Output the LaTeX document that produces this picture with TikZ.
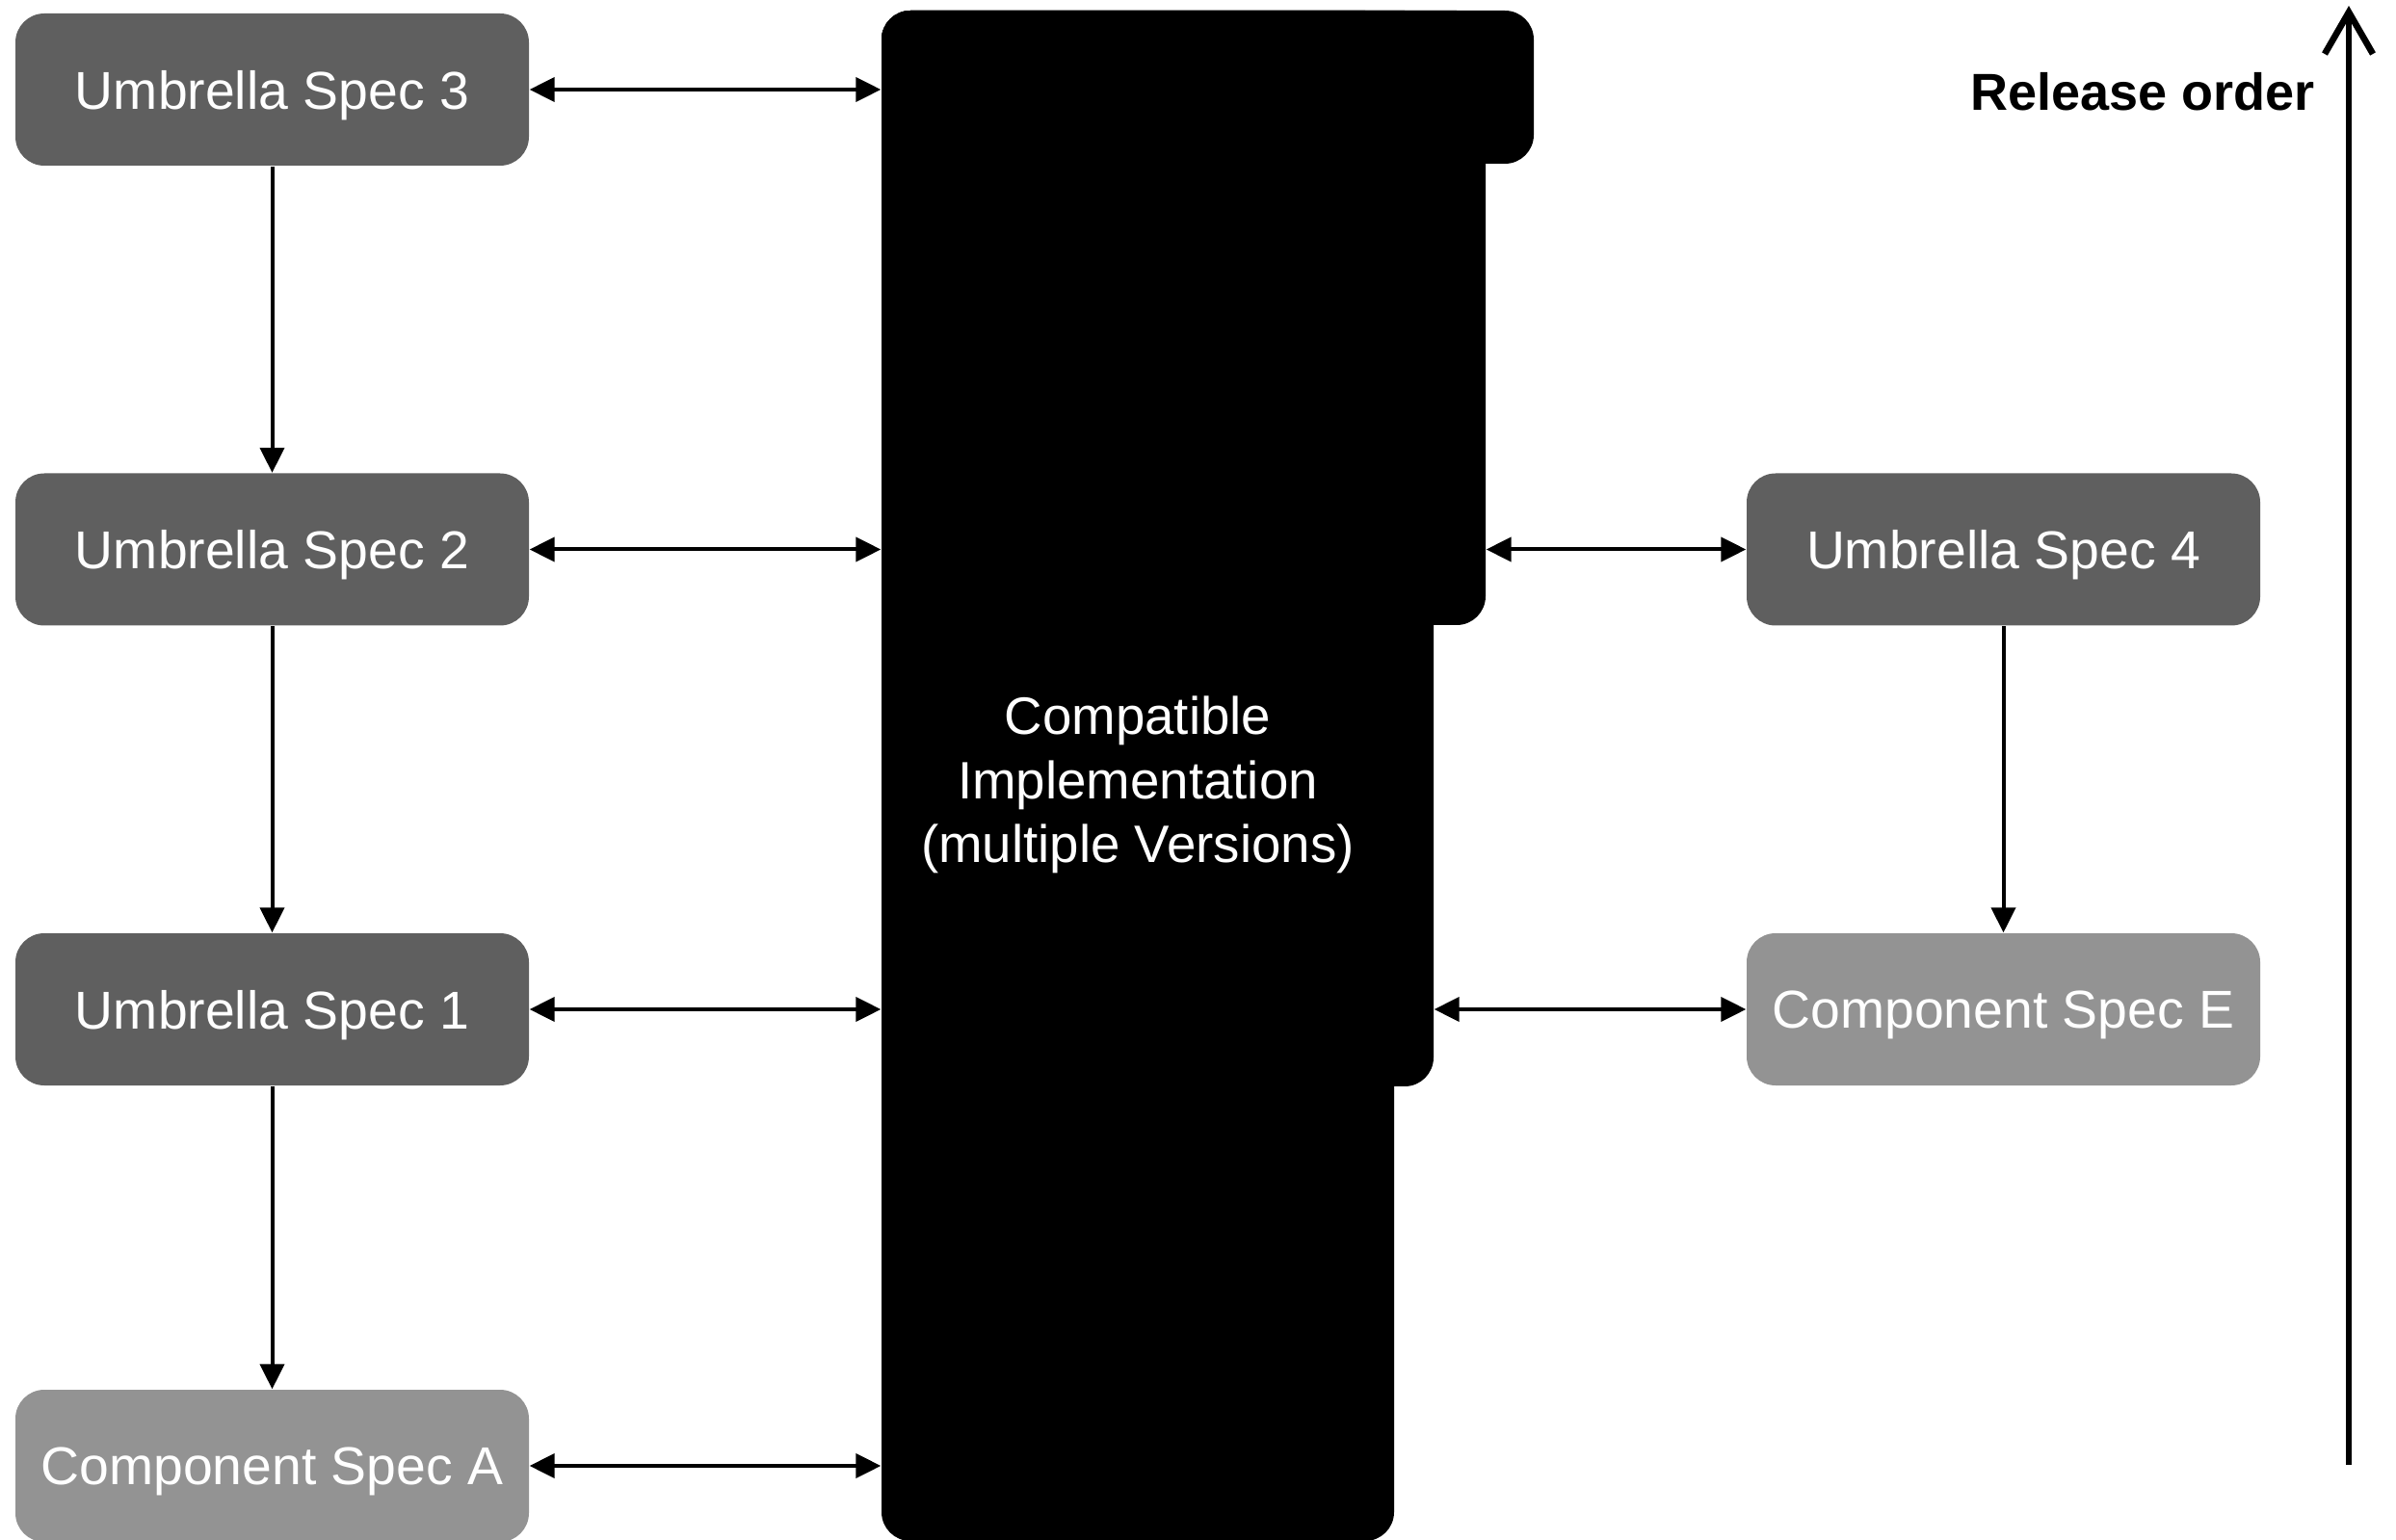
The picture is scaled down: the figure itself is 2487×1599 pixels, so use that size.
\documentclass[tikz,border=0pt]{standalone}
\usepackage{fontspec}
\setmainfont{Liberation Sans}
\usetikzlibrary{arrows.meta}
\definecolor{darkbox}{HTML}{5F5F5F}
\definecolor{lightbox}{HTML}{939393}
\tikzset{
  specbox/.style={rectangle, rounded corners=9pt, minimum width=159.9pt, minimum height=47.4pt,
    inner sep=0pt, text depth=0pt, text=white, font=\fontsize{16.6}{20}\selectfont},
  umbrella/.style={specbox, fill=darkbox},
  component/.style={specbox, fill=lightbox},
  implpart/.style={rectangle, rounded corners=9pt, fill=black, inner sep=0pt},
  conn/.style={line width=1.2pt, -{Triangle[length=7.8pt,width=7.5pt]}},
  biconn/.style={line width=1.2pt, {Triangle[length=7.8pt,width=7.5pt]}-{Triangle[length=7.8pt,width=7.5pt]}},
  orderarrow/.style={line width=2pt, -{Straight Barb[length=13pt,width=15pt,line width=2pt]}}
}
\begin{document}
\begin{tikzpicture}[x=0.3pt,y=-0.3pt]
\useasboundingbox (0,0) rectangle (2487,1599);
% compatible implementation (stepped black shape)
\node[implpart, minimum width=203.1pt, minimum height=47.7pt] (imp3) at (1253.5,90.5) {};
\node[implpart, minimum width=188.1pt, minimum height=191.4pt] (imp2) at (1228.5,330) {};
\node[implpart, minimum width=171.9pt, minimum height=335.1pt] (imp1) at (1201.5,569.5) {};
\node[implpart, minimum width=159.6pt, minimum height=476.7pt, text=white, align=center,
      font=\fontsize{16.4}{20}\selectfont] (impl) at (1181,805.5)
      {\rule{0pt}{17.6pt}Compatible\\Implementation\\(multiple Versions)};
% left column
\node[umbrella] (u3) at (282.5,93) {Umbrella Spec 3};
\node[umbrella] (u2) at (282.5,570.5) {Umbrella Spec 2};
\node[umbrella] (u1) at (282.5,1048) {Umbrella Spec 1};
\node[component] (ca) at (282.5,1522) {Component Spec A};
% right column
\node[umbrella] (u4) at (2079.5,570.5) {Umbrella Spec 4};
\node[component] (ce) at (2079.5,1048) {Component Spec E};
% release order
\coordinate (rbot) at (2438,1521);
\coordinate (rtop) at (2438,6);
\node[anchor=east, inner sep=0pt, font=\bfseries\fontsize{16.2}{20}\selectfont] (rel) at (2403,95) {Release order};
\draw[orderarrow] (rbot) -- (rtop);
% vertical arrows
\draw[conn] (u3.south) -- (u2.north);
\draw[conn] (u2.south) -- (u1.north);
\draw[conn] (u1.south) -- (ca.north);
\draw[conn] (u4.south) -- (ce.north);
% horizontal arrows
\draw[biconn] (u3.east) -- (u3.east -| impl.west);
\draw[biconn] (u2.east) -- (u2.east -| impl.west);
\draw[biconn] (u1.east) -- (u1.east -| impl.west);
\draw[biconn] (ca.east) -- (ca.east -| impl.west);
\draw[biconn] (u4.west -| imp2.east) -- (u4.west);
\draw[biconn] (ce.west -| imp1.east) -- (ce.west);
\end{tikzpicture}
\end{document}
